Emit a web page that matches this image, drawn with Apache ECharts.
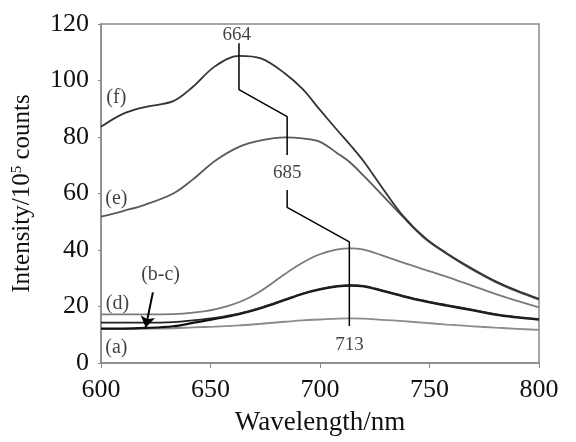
<!DOCTYPE html>
<html><head><meta charset="utf-8">
<script src="https://cdn.jsdelivr.net/npm/echarts@6/dist/echarts.min.js"></script>
<style>html,body{margin:0;padding:0;background:#fff}#c{width:576px;height:442px}</style>
</head><body><div id="c"></div>
<script>
// Wavelength sample points (nm)
const wavelength = [600, 610, 620, 633, 642, 652, 663, 673, 684, 692, 700, 708, 714, 720, 728, 738, 748, 758, 770, 780, 790, 800];
// Intensity (10^5 counts)
const seriesF = [83.6, 88.2, 90.6, 92.7, 97.8, 105.0, 108.7, 107.8, 102.5, 97.0, 89.6, 82.3, 77.0, 71.3, 62.5, 52.0, 44.3, 38.8, 33.2, 29.0, 25.6, 22.7];
const seriesE = [51.8, 53.8, 56.0, 60.0, 65.0, 71.5, 76.5, 78.8, 79.9, 79.5, 78.3, 74.2, 70.8, 66.2, 59.8, 51.6, 44.0, 38.6, 32.8, 28.7, 25.3, 22.4];
const seriesD = [17.2, 17.2, 17.2, 17.3, 17.8, 19.0, 21.5, 25.5, 31.5, 35.5, 38.5, 40.2, 40.6, 40.1, 38.2, 35.5, 33.0, 30.5, 27.2, 24.5, 22.0, 19.7];
const seriesB = [14.3, 14.3, 14.3, 14.5, 15.1, 16.0, 17.5, 19.6, 22.5, 24.6, 26.2, 27.3, 27.6, 27.3, 25.8, 23.8, 22.0, 20.5, 18.8, 17.3, 16.3, 15.5];
const seriesC = [12.2, 12.2, 12.4, 13.0, 14.2, 15.6, 17.3, 19.4, 22.3, 24.4, 26.0, 27.1, 27.4, 27.1, 25.6, 23.6, 21.8, 20.3, 18.6, 17.1, 16.1, 15.3];
const seriesA = [12.0, 12.0, 12.1, 12.3, 12.6, 12.9, 13.3, 13.9, 14.6, 15.1, 15.4, 15.7, 15.8, 15.7, 15.3, 14.8, 14.2, 13.6, 13.0, 12.5, 12.1, 11.7];
// Peak marker paths [wavelength, intensity]
const peakPath1 = [[663, 113.2], [663, 96.8], [685, 87.2], [685, 73.6]];
const peakPath2 = [[685, 61.2], [685, 55.1], [713.4, 42.9], [713.4, 13.1]];
const peakLabels = [["664", 662, 116], ["685", 685, 67.3], ["713", 713.5, 6.4]];
const curveLabels = [["(f)", 607, 93.8], ["(e)", 607, 58], ["(d)", 607.5, 21.1], ["(a)", 607, 5.3], ["(b-c)", 627.2, 31.2]];
const arrowFrom = [623.7, 25.0], arrowTo = [620.4, 12.6];
const xTicks = [600, 650, 700, 750, 800];
const yTicks = [0, 20, 40, 60, 80, 100, 120];

const serif = '"Liberation Serif","Times New Roman",serif';
const pair = arr => wavelength.map((x, i) => [x, arr[i]]);
function curve(name, arr, color, width) {
  return {type: 'line', name, data: pair(arr), symbol: 'none', smooth: 0.35,
    lineStyle: {color, width}, z: 3, silent: true};
}
const chart = echarts.init(document.getElementById('c'), null, {renderer: 'canvas'});
chart.setOption({
  animation: false,
  backgroundColor: '#fff',
  grid: {left: 101, right: 37, top: 24, bottom: 79, show: true, borderColor: '#8a8a8a', borderWidth: 1.5},
  xAxis: {type: 'value', min: xTicks[0], max: xTicks[xTicks.length - 1], interval: 50,
    name: 'Wavelength/nm', nameLocation: 'middle', nameGap: 46,
    nameTextStyle: {fontFamily: serif, fontSize: 27, color: '#111'},
    axisLine: {lineStyle: {color: '#8a8a8a', width: 1.5}},
    axisTick: {show: true, length: 5, lineStyle: {color: '#8a8a8a'}},
    axisLabel: {fontFamily: serif, fontSize: 26, color: '#111', margin: 14},
    splitLine: {show: false}},
  yAxis: {type: 'value', min: yTicks[0], max: yTicks[yTicks.length - 1], interval: 20,
    name: 'Intensity/10{sup|5} counts', nameLocation: 'middle', nameGap: 66,
    nameTextStyle: {fontFamily: serif, fontSize: 25, color: '#111',
      rich: {sup: {fontFamily: serif, fontSize: 15, color: '#111', verticalAlign: 'top', lineHeight: 15}}},
    axisLine: {show: true, lineStyle: {color: '#8a8a8a', width: 1.5}},
    axisTick: {show: true, length: 3, lineStyle: {color: '#8a8a8a'}},
    axisLabel: {fontFamily: serif, fontSize: 26, color: '#111', margin: 12},
    splitLine: {show: false}},
  series: [
    curve('a', seriesA, '#8c8c8c', 1.8),
    curve('d', seriesD, '#7a7a7a', 1.8),
    curve('c', seriesC, '#111', 2.2),
    curve('b', seriesB, '#222', 1.8),
    curve('e', seriesE, '#5a5a5a', 1.8),
    curve('f', seriesF, '#333', 1.8),
    {type: 'line', data: peakPath1, symbol: 'none', lineStyle: {color: '#000', width: 1.5}, z: 5, silent: true},
    {type: 'line', data: peakPath2, symbol: 'none', lineStyle: {color: '#000', width: 1.5}, z: 5, silent: true},
    {type: 'lines', coordinateSystem: 'cartesian2d', z: 7, silent: true,
      symbol: ['none', 'arrow'], symbolSize: 11,
      lineStyle: {color: '#000', width: 2, opacity: 1},
      data: [{coords: [arrowFrom, arrowTo]}]},
    {type: 'scatter', symbolSize: 0, z: 6, silent: true,
      data: peakLabels.map(d => ({name: d[0], value: [d[1], d[2]]})),
      label: {show: true, position: 'inside', formatter: p => p.name, fontFamily: serif, fontSize: 19, color: '#111'}},
    {type: 'scatter', symbolSize: 0, z: 6, silent: true,
      data: curveLabels.map(d => ({name: d[0], value: [d[1], d[2]]})),
      label: {show: true, position: 'inside', formatter: p => p.name, fontFamily: serif, fontSize: 20, color: '#111'}}
  ]
});
</script></body></html>
